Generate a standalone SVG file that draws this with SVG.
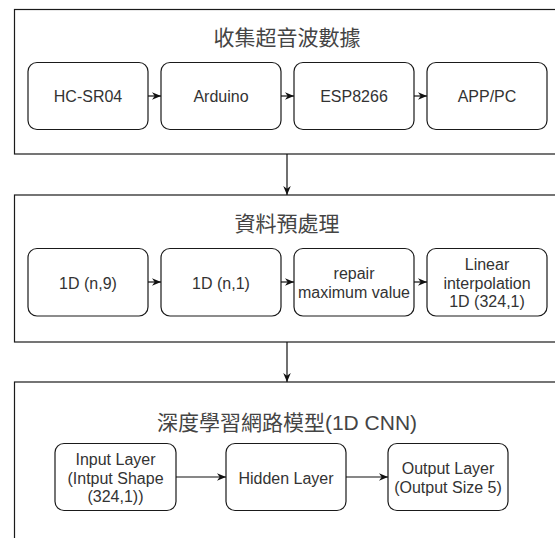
<svg xmlns="http://www.w3.org/2000/svg" width="555" height="538" viewBox="0 0 555 538">
  <style>
    .panel { fill: #ffffff; stroke: #1a1a1a; stroke-width: 1.2; }
    .node rect { fill: #ffffff; stroke: #1a1a1a; stroke-width: 1.2; }
    .label { font-family: "Liberation Sans", Arial, sans-serif; font-size: 16px; fill: #333333; text-anchor: middle; dominant-baseline: central; }
    .title { font-family: "Liberation Sans", "Noto Sans CJK TC", sans-serif; font-size: 21px; fill: #444444; text-anchor: middle; dominant-baseline: central; }
    .edge { fill: none; stroke: #111111; stroke-width: 1.2; marker-end: url(#arrow); }
  </style>
  <defs>
    <marker id="arrow" viewBox="0 0 10 10" refX="10" refY="5" markerWidth="9" markerHeight="9" markerUnits="userSpaceOnUse" orient="auto">
      <path d="M0,0.8 L10,5 L0,9.2 L3,5 z" fill="#111111"/>
    </marker>
  </defs>

  <rect width="555" height="538" fill="#ffffff"/>

  <!-- stage 1: data collection -->
  <g id="stage-collect">
    <rect class="panel" x="14.5" y="9.5" width="560" height="144.5"/>
    <text class="title" x="287" y="37">收集超音波數據</text>
  </g>
  <g id="hc-sr04" class="node">
    <rect x="28" y="62.5" width="120" height="67" rx="9"/>
    <text class="label" x="88" y="96">HC-SR04</text>
  </g>
  <g id="arduino" class="node">
    <rect x="161" y="62.5" width="120" height="67" rx="9"/>
    <text class="label" x="221" y="96">Arduino</text>
  </g>
  <g id="esp8266" class="node">
    <rect x="294" y="62.5" width="120" height="67" rx="9"/>
    <text class="label" x="354" y="96">ESP8266</text>
  </g>
  <g id="app-pc" class="node">
    <rect x="427" y="62.5" width="120" height="67" rx="9"/>
    <text class="label" x="487" y="96">APP/PC</text>
  </g>

  <!-- stage 2: preprocessing -->
  <g id="stage-preprocess">
    <rect class="panel" x="14.5" y="195" width="560" height="147"/>
    <text class="title" x="287" y="223">資料預處理</text>
  </g>
  <g id="raw-n9" class="node">
    <rect x="28" y="248.5" width="120" height="67.5" rx="9"/>
    <text class="label" x="88" y="283">1D (n,9)</text>
  </g>
  <g id="raw-n1" class="node">
    <rect x="161" y="248.5" width="120" height="67.5" rx="9"/>
    <text class="label" x="221" y="283">1D (n,1)</text>
  </g>
  <g id="repair-max" class="node">
    <rect x="294" y="248.5" width="120" height="67.5" rx="9"/>
    <text class="label" x="354" y="273.5">repair</text>
    <text class="label" x="354" y="292.5">maximum value</text>
  </g>
  <g id="interpolate" class="node">
    <rect x="427" y="248.5" width="120" height="67.5" rx="9"/>
    <text class="label" x="487" y="264.5">Linear</text>
    <text class="label" x="487" y="283">interpolation</text>
    <text class="label" x="487" y="301.5">1D (324,1)</text>
  </g>

  <!-- stage 3: deep learning model -->
  <g id="stage-model">
    <rect class="panel" x="14.5" y="382" width="560" height="170"/>
    <text class="title" x="287" y="422">深度學習網路模型(1D CNN)</text>
  </g>
  <g id="input-layer" class="node">
    <rect x="55" y="443.5" width="121" height="67" rx="9"/>
    <text class="label" x="115.5" y="459.5">Input Layer</text>
    <text class="label" x="115.5" y="478">(Intput Shape</text>
    <text class="label" x="115.5" y="496.5">(324,1))</text>
  </g>
  <g id="hidden-layer" class="node">
    <rect x="226" y="443.5" width="120" height="67" rx="9"/>
    <text class="label" x="286" y="478">Hidden Layer</text>
  </g>
  <g id="output-layer" class="node">
    <rect x="388" y="443.5" width="120" height="67" rx="9"/>
    <text class="label" x="448" y="468">Output Layer</text>
    <text class="label" x="448" y="487.5">(Output Size 5)</text>
  </g>

  <!-- connectors -->
  <g id="connectors">
    <path class="edge" d="M148,96 L161,96"/>
    <path class="edge" d="M281,96 L294,96"/>
    <path class="edge" d="M414,96 L427,96"/>
    <path class="edge" d="M287,154 L287,195"/>
    <path class="edge" d="M148,282 L161,282"/>
    <path class="edge" d="M281,282 L294,282"/>
    <path class="edge" d="M414,282 L427,282"/>
    <path class="edge" d="M287,342 L287,382"/>
    <path class="edge" d="M176,477 L226,477"/>
    <path class="edge" d="M346,477 L388,477"/>
  </g>
</svg>
